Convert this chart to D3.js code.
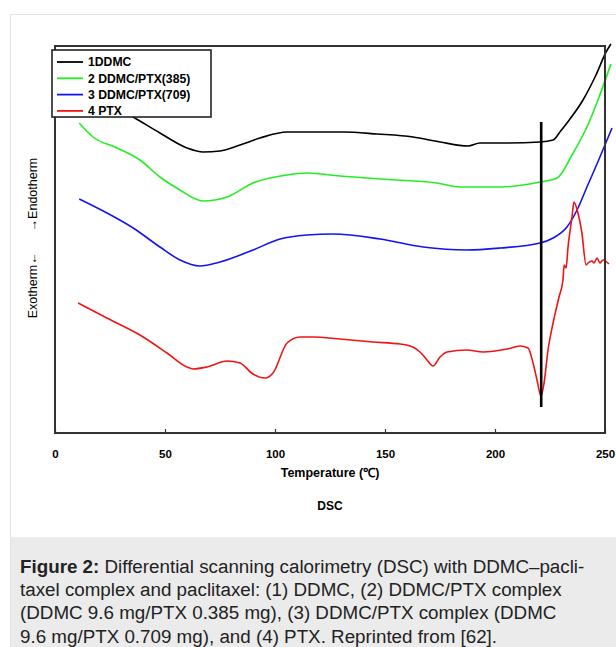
<!DOCTYPE html>
<html>
<head>
<meta charset="utf-8">
<script src="https://cdn.jsdelivr.net/npm/d3@7"></script>
<style>
  html,body{margin:0;padding:0;background:#fff;}
  svg{display:block;}
</style>
</head>
<body>
<svg id="fig" width="616" height="647"></svg>
<script>
// values: [temperature °C, heat flow (a.u., offset curves)]
const ddmc = [[11,345],[35.5,316],[47.7,300],[60,285],[67.3,281],[75,282],[84.1,288],[93.2,295],[105.5,301],[114.5,301],[130.9,301],[146.4,299],[162.7,296],[175,291],[187.7,287],[193.2,290],[202.3,290],[220.5,291],[226.4,293],[229.5,301],[232.7,310],[240,333],[245.9,358],[250.5,381],[252.7,389]];
const ddmcPtx385 = [[11,310],[17.3,296],[28.2,285],[38.6,273],[47.7,256],[56.8,243],[67.3,232],[78.2,236],[90,250],[105.5,258],[114.5,260],[129.5,257],[155.5,253],[173.6,250],[184.1,246],[202.3,246],[220.5,251],[228.2,255],[235.5,280],[241.8,306],[246.8,333],[252.7,369]];
const ddmcPtx709 = [[11,234],[23.6,220],[35.5,205],[47.7,186],[56.8,173],[65.9,167],[75,171],[90,183],[102.3,194],[114.5,198],[126.4,199],[147.7,194],[167.3,186],[187.3,183],[202.3,185],[220.5,190],[226.4,195],[232.7,206],[237.3,223],[241.8,246],[247.7,276],[253.2,305]];
const ptx = [[10.5,130],[23.6,115],[38.6,98],[50.9,80],[60,66],[62.7,64],[69.1,66],[78.2,72],[84.1,70],[90,59],[95.5,55],[99.1,60],[105.5,90],[111.4,96],[117.3,96],[129.5,94],[144.5,91],[156.8,89],[162.7,86],[165.9,81],[169.1,73],[171.8,67],[175,76],[178.2,81],[187.3,83],[194.5,81],[205.5,84],[211.4,87],[215,85],[217.3,70],[219.1,53],[220.9,37],[222.3,50],[224.1,83],[226.4,110],[229.1,136],[230.9,153],[231.4,168],[232.3,165],[233.2,186],[235,216],[235.9,231],[237.7,220],[239.5,200],[241.4,168],[242.3,170],[244.1,172],[245,170],[246.4,175],[247.7,170],[249.1,173],[251.8,169]];

const seriesNames = ['1DDMC','2 DDMC/PTX(385)','3 DDMC/PTX(709)','4 PTX'];
const seriesData = [ddmc, ddmcPtx385, ddmcPtx709, ptx];
const xTicks = [0,50,100,150,200,250];
const xDomain = [0,250];
const yDomain = [0,387];
const markerTemp = 221;
const markerRange = [26,311];

const captionLines = [
  [['Figure 2:',true],[' Differential scanning calorimetry (DSC) with DDMC–pacli-',false]],
  [['taxel complex and paclitaxel: (1) DDMC, (2) DDMC/PTX complex',false]],
  [['(DDMC 9.6 mg/PTX 0.385 mg), (3) DDMC/PTX complex (DDMC',false]],
  [['9.6 mg/PTX 0.709 mg), and (4) PTX. Reprinted from [62].',false]]
];

let DscChart = function () {
    let master = {};
    let graphicopt = {
        margin:{left:55,right:10,top:46,bottom:214},
        width:616,
        height:647,
        colors:['#000000','#22ee22','#1414f0','#f01414'],
        font:'"Liberation Sans", Arial, sans-serif'
    };
    master.init = (svg)=>{
        master.svg = svg;
        const {width,height,margin} = graphicopt;
        // white figure panel + grey caption box
        svg.append('rect').attr('x',10.5).attr('y',14.5).attr('width',width).attr('height',537-14)
            .attr('fill','#fff').attr('stroke','#e2e2e2');
        svg.append('rect').attr('x',10).attr('y',537).attr('width',width-10).attr('height',height-537)
            .attr('fill','#ebebeb');
        svg.append('line').attr('x1',10.5).attr('x2',10.5).attr('y1',537).attr('y2',height)
            .attr('stroke','#e2e2e2');
        master.x = d3.scaleLinear().domain(xDomain).range([margin.left,width-margin.right-1]);
        master.y = d3.scaleLinear().domain(yDomain).range([height-margin.bottom,margin.top]);
    };
    master.draw = function () {
        const svg = master.svg, x = master.x, y = master.y;
        const {colors,font} = graphicopt;
        const [x0,x1] = x.range(), [y0,y1] = y.range();

        // axis ticks (inside, bottom)
        const ax = svg.append('g').attr('transform',`translate(0,${y0})`)
            .call(d3.axisBottom(x).tickValues(xTicks).tickSize(-4).tickPadding(17).tickFormat(d3.format('d')));
        ax.select('.domain').remove();
        ax.selectAll('line').attr('stroke','#333').attr('stroke-width',1.2);
        ax.selectAll('text').attr('font-family',font).attr('font-weight','bold')
            .attr('font-size',11.5).attr('fill','#000');

        const line = d3.line().x(d=>x(d[0])).y(d=>y(d[1])).curve(d3.curveMonotoneX);
        svg.append('g').selectAll('path').data(seriesData).join('path')
            .attr('d',line).attr('fill','none')
            .attr('stroke',(d,i)=>colors[i]).attr('stroke-width',1.6);

        svg.append('line')
            .attr('x1',x(markerTemp)).attr('x2',x(markerTemp))
            .attr('y1',y(markerRange[1])).attr('y2',y(markerRange[0]))
            .attr('stroke','#000').attr('stroke-width',2.6);

        // plot frame
        svg.append('rect').attr('x',x0).attr('y',y1).attr('width',x1-x0).attr('height',y0-y1)
            .attr('fill','none').attr('stroke','#333').attr('stroke-width',2);

        // legend
        const lg = svg.append('g').attr('transform','translate(52,50)');
        lg.append('rect').attr('width',159).attr('height',67)
            .attr('fill','#fff').attr('stroke','#222').attr('stroke-width',1.6);
        const row = lg.selectAll('g.row').data(seriesNames).join('g').attr('class','row')
            .attr('transform',(d,i)=>`translate(0,${12+i*16.3})`);
        row.append('line').attr('x1',5).attr('x2',31)
            .attr('stroke',(d,i)=>colors[i]).attr('stroke-width',1.8);
        row.append('text').attr('x',36).attr('dy','0.36em').text(d=>d)
            .attr('font-family',font).attr('font-weight','bold').attr('font-size',12.2);

        // axis titles
        const cx = (x0+x1)/2;
        svg.append('text').attr('x',cx).attr('y',477).attr('text-anchor','middle')
            .attr('font-family',font).attr('font-weight','bold').attr('font-size',12.5)
            .text('Temperature (℃)');
        svg.append('text').attr('x',cx).attr('y',510).attr('text-anchor','middle')
            .attr('font-family',font).attr('font-weight','bold').attr('font-size',12)
            .text('DSC');
        svg.append('text').attr('transform','translate(37,238) rotate(-90)').attr('text-anchor','middle')
            .attr('font-family',font).attr('font-size',12.5).style('white-space','pre')
            .text('Exotherm←      →Endotherm');

        // caption
        const cap = svg.append('g');
        captionLines.forEach((parts,i)=>{
            const t = cap.append('text').attr('x',20).attr('y',573+i*23.2)
                .attr('font-family',font).attr('font-size',18.8).attr('fill','#222')
                .style('white-space','pre');
            parts.forEach(p=>t.append('tspan').attr('font-weight',p[1]?'bold':'normal').text(p[0]));
        });
    };
    return master;
};

const chart = DscChart();
chart.init(d3.select('#fig'));
chart.draw();
</script>
</body>
</html>
